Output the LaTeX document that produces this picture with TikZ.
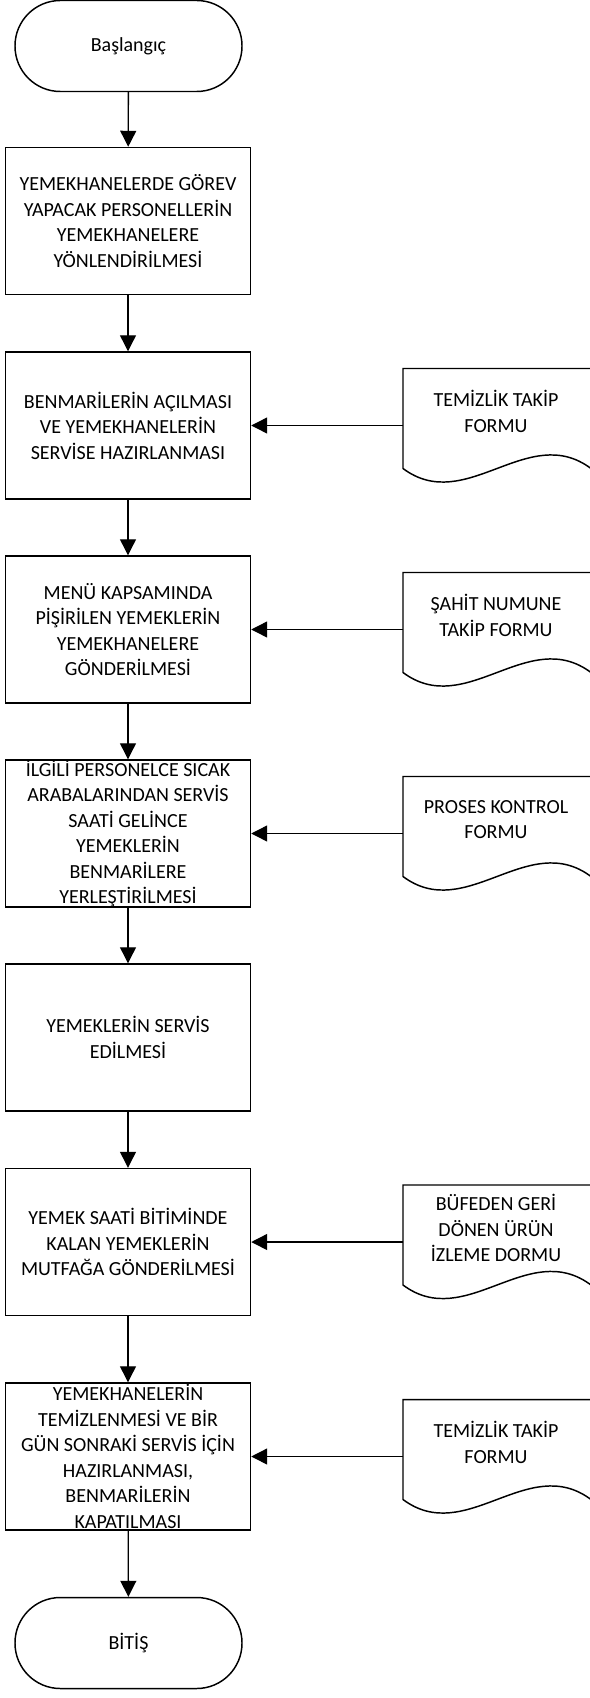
\documentclass[tikz,border=0pt]{standalone}
\usepackage{fontspec}
\setmainfont{Carlito}
\usetikzlibrary{arrows.meta}

\tikzset{
  stepbox/.style={draw, line width=1.1pt, minimum width=183.75pt, minimum height=110.25pt, inner xsep=2pt, inner ysep=0pt, align=center},
  termbox/.style={draw, line width=1.1pt, rounded corners=34pt, minimum width=170.25pt, minimum height=68.25pt, align=center},
  flow/.style={line width=1pt, -{Triangle[length=12pt,width=12pt]}},
  % pics drop the yscale=-1, so y runs upwards in here
  docshape/.pic={
    \coordinate (-in) at (0,0);
    \draw [line width=1.1pt] (0,57) -- (188,57) -- (188,-43) .. controls (125,4) and (63,-90) .. (0,-43) -- cycle ;
    \node (-txt) at (93,14) [align=center] {#1};
  }
}

\begin{document}
\begin{tikzpicture}[x=0.75pt,y=0.75pt,yscale=-1,xscale=1, font=\fontsize{15}{19.1}\selectfont]
\useasboundingbox (0,0) rectangle (589,1698);

%Shape: Terminator
\node [termbox] (start) at (128.5,46) {Başlangıç};

%Shape: Rectangle
\node [stepbox] (b1) at (128,221) {YEMEKHANELERDE GÖREV\\YAPACAK PERSONELLERİN\\YEMEKHANELERE\\YÖNLENDİRİLMESİ};
%Shape: Rectangle
\node [stepbox] (b2) at (128,425.5) {BENMARİLERİN AÇILMASI\\VE YEMEKHANELERİN\\SERVİSE HAZIRLANMASI};
%Shape: Rectangle
\node [stepbox] (b3) at (128,629.5) {MENÜ KAPSAMINDA\\PİŞİRİLEN YEMEKLERİN\\YEMEKHANELERE\\GÖNDERİLMESİ};
%Shape: Rectangle
\node [stepbox] (b4) at (128,833.5) {İLGİLİ PERSONELCE SICAK\\ARABALARINDAN SERVİS\\SAATİ GELİNCE\\YEMEKLERİN\\BENMARİLERE\\YERLEŞTİRİLMESİ};
%Shape: Rectangle
\node [stepbox] (b5) at (128,1037.5) {YEMEKLERİN SERVİS\\EDİLMESİ};
%Shape: Rectangle
\node [stepbox] (b6) at (128,1242) {YEMEK SAATİ BİTİMİNDE\\KALAN YEMEKLERİN\\MUTFAĞA GÖNDERİLMESİ};
%Shape: Rectangle
\node [stepbox] (b7) at (128,1456.5) {YEMEKHANELERİN\\TEMİZLENMESİ VE BİR\\GÜN SONRAKİ SERVİS İÇİN\\HAZIRLANMASI,\\BENMARİLERİN\\KAPATILMASI};

%Shape: Terminator
\node [termbox] (end) at (128.5,1643) {BİTİŞ};

%Shape: Document
\pic (d1) at (403,425.5) {docshape={TEMİZLİK TAKİP\\FORMU}};
%Shape: Document
\pic (d2) at (403,629.5) {docshape={ŞAHİT NUMUNE\\TAKİP FORMU}};
%Shape: Document
\pic (d3) at (403,833.5) {docshape={PROSES KONTROL\\FORMU}};
%Shape: Document
\pic (d4) at (403,1242) {docshape={BÜFEDEN GERİ\\DÖNEN ÜRÜN\\İZLEME DORMU}};
%Shape: Document
\pic (d5) at (403,1456.5) {docshape={TEMİZLİK TAKİP\\FORMU}};

%Straight Lines
\draw [flow] (start) -- (b1);
\draw [flow] (b1) -- (b2);
\draw [flow] (b2) -- (b3);
\draw [flow] (b3) -- (b4);
\draw [flow] (b4) -- (b5);
\draw [flow] (b5) -- (b6);
\draw [flow] (b6) -- (b7);
\draw [flow] (b7) -- (end);

%Straight Lines
\draw [flow] (d1-in) -- (d1-in -| b2.east);
\draw [flow] (d2-in) -- (d2-in -| b3.east);
\draw [flow] (d3-in) -- (d3-in -| b4.east);
\draw [flow] (d4-in) -- (d4-in -| b6.east);
\draw [flow] (d5-in) -- (d5-in -| b7.east);

\end{tikzpicture}
\end{document}
